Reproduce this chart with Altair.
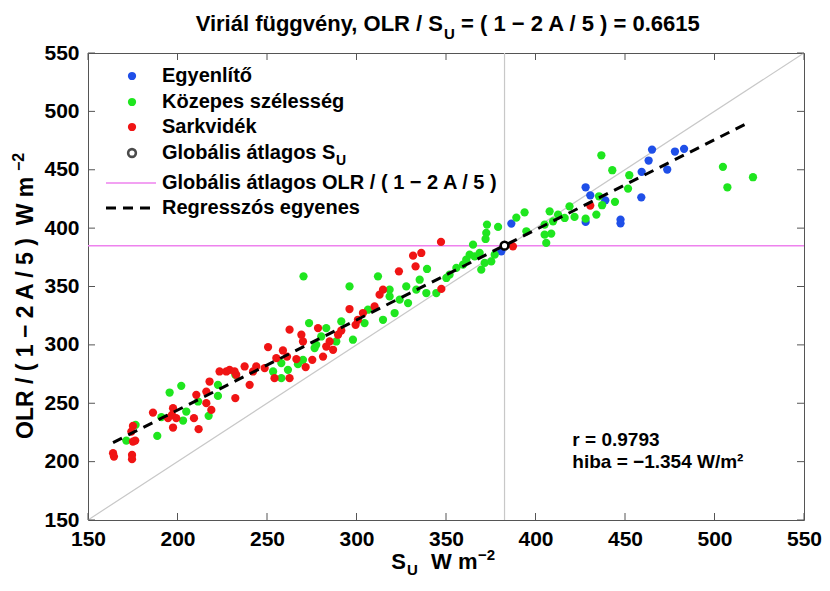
import altair as alt
import pandas as pd

# ---------------- data ----------------
eq_su = [465.1, 477.9, 483.0, 463.2, 459.3, 473.6, 428.0, 430.6, 439.0, 459.1,
         447.5, 447.5, 428.0, 386.5, 380.9]
eq_olr = [467.3, 465.6, 467.9, 457.9, 448.2, 450.2, 435.0, 428.1, 423.8, 426.4,
          407.3, 404.1, 405.3, 403.9, 380.1]

mid_su = [436.8, 442.9, 452.4, 451.7, 444.4, 437.2, 435.5, 434.0, 428.0, 504.7,
          507.2, 521.5, 419.0, 421.8, 416.3, 412.6, 407.9, 409.8, 393.9, 389.3,
          405.1, 394.9, 405.1, 408.8, 406.0,
          379.1, 372.9, 372.5, 372.1, 339.4, 312.0, 318.5, 318.5, 327.8, 335.3,
          333.4, 339.0, 324.1, 328.8, 321.3, 314.8, 306.4, 344.6, 350.2, 352.0,
          359.5, 363.2, 366.0, 368.8, 365.1, 369.7, 371.6, 375.3, 377.2, 361.3,
          355.8,
          270.4, 296.1, 291.5, 304.5, 273.5, 283.1, 280.3, 288.7, 298.0, 277.5,
          276.6, 270.1, 258.0, 261.7, 258.0, 267.3, 253.4,
          232.3, 202.1, 195.6, 222.6, 222.6, 211.5, 204.9, 191.0, 203.1, 217.4,
          188.7, 176.6, 171.4]
mid_olr = [462.4, 449.6, 445.3, 433.9, 422.5, 419.6, 427.3, 411.6, 408.1, 452.5,
           435.0, 443.6, 418.7, 409.6, 408.7, 411.6, 414.4, 405.8, 413.5, 409.0,
           403.0, 397.3, 394.4, 395.3, 387.3,
           401.0, 403.0, 395.9, 390.7, 365.0, 358.7, 347.3, 341.5, 350.1, 355.8,
           347.3, 344.4, 338.7, 335.8, 327.3, 321.5, 330.1, 344.4, 357.3, 360.1,
           368.7, 377.3, 375.8, 378.7, 385.8, 364.4, 370.2, 371.5, 377.3, 373.0,
           365.9,
           358.7, 350.1, 320.1, 318.7, 318.7, 314.4, 307.2, 302.9, 304.4, 300.1,
           297.3, 287.2, 284.4, 278.6, 271.5, 283.5, 277.2,
           274.4, 264.9, 259.2, 265.8, 256.3, 251.5, 242.9, 238.1, 235.2, 239.2,
           222.0, 231.5, 218.0]

pol_su = [430.6, 347.2, 336.2, 331.6, 333.0, 323.7, 314.8, 312.9, 310.1, 347.4,
          387.4,
          296.1, 303.6, 300.8, 299.5, 278.5, 291.5, 289.7, 262.6, 269.2, 270.1,
          285.0, 283.1, 286.9, 281.3, 275.3, 271.6, 250.6, 258.9, 261.2, 255.2,
          254.2, 262.6, 266.4, 237.5, 244.0, 242.2, 240.3, 229.1, 248.7, 232.8,
          223.5, 227.3, 231.9, 217.9, 210.5, 216.1, 216.1, 232.3, 218.9, 197.5,
          186.3, 196.9, 199.3, 194.7, 209.2, 197.5, 211.8, 175.1, 174.2, 176.4,
          175.1, 164.0, 164.5, 174.6, 174.6]
pol_olr = [419.3, 388.2, 378.7, 376.4, 367.2, 363.0, 347.3, 343.0, 332.9, 347.9,
           384.4,
           330.7, 327.3, 321.5, 317.2, 314.4, 312.3, 308.7, 313.0, 308.7, 302.9,
           302.9, 298.6, 295.8, 290.0, 287.2, 281.0, 298.1, 295.2, 290.0, 288.7,
           271.5, 271.5, 287.8, 281.5, 281.5, 277.2, 265.8, 278.6, 280.1, 274.4,
           277.2, 277.2, 277.2, 268.6, 257.2, 260.0, 250.1, 254.4, 244.3, 245.8,
           242.0, 240.0, 237.2, 237.2, 237.2, 229.2, 227.8, 230.6, 225.7, 218.0,
           217.2, 207.2, 204.3, 205.7, 202.1]

region_names = ["Egyenlítő", "Közepes szélesség", "Sarkvidék"]
region_colors = ["#1f4fe8", "#1fe61f", "#f01414"]

global_su = 382.7
global_olr = 385.0
reg_su = [164.0, 518.0]
reg_olr = [216.3, 489.6]
diag = [150, 550]
ticks = [150, 200, 250, 300, 350, 400, 450, 500, 550]

r_text = "r = 0.9793"
hiba_text = "hiba = −1.354 W/m²"
ann_su = 420.6
ann_olr = [218.6, 199.7]

# ---------------- layout ----------------
W, H = 716, 467
FONT = "Liberation Sans"

pts = pd.DataFrame({
    "su": eq_su + mid_su + pol_su,
    "olr": eq_olr + mid_olr + pol_olr,
    "reg": [region_names[0]] * len(eq_su) + [region_names[1]] * len(mid_su)
           + [region_names[2]] * len(pol_su),
})

xs = alt.Scale(domain=[150, 550], nice=False, zero=False)
ys = alt.Scale(domain=[150, 550], nice=False, zero=False)
x_axis = alt.Axis(values=ticks, title=None, domain=False, ticks=False, grid=False,
                  labelFont=FONT, labelFontWeight="bold", labelFontSize=21,
                  labelColor="black", labelPadding=8, labelFlush=False,
                  labelOverlap=False)
y_axis = alt.Axis(values=ticks, title=None, domain=False, ticks=False, grid=False,
                  labelFont=FONT, labelFontWeight="bold", labelFontSize=21,
                  labelColor="black", labelPadding=9, labelFlush=False,
                  labelOverlap=False)

diag_layer = alt.Chart(pd.DataFrame({"a": diag, "b": diag})).mark_line(
    color="#c8c8c8", strokeWidth=1.2).encode(
    x=alt.X("a:Q", scale=xs, axis=x_axis), y=alt.Y("b:Q", scale=ys, axis=y_axis))

vline = alt.Chart(pd.DataFrame({"v": [global_su]})).mark_rule(
    color="#c8c8c8", strokeWidth=1.2).encode(x=alt.X("v:Q", scale=xs))
hline = alt.Chart(pd.DataFrame({"v": [global_olr]})).mark_rule(
    color="#ee82ee", strokeWidth=1.5).encode(y=alt.Y("v:Q", scale=ys))

points = alt.Chart(pts).mark_circle(size=68, opacity=1).encode(
    x=alt.X("su:Q", scale=xs),
    y=alt.Y("olr:Q", scale=ys),
    color=alt.Color("reg:N", scale=alt.Scale(domain=region_names, range=region_colors),
                    legend=None),
)

reg_layer = alt.Chart(pd.DataFrame({"a": reg_su, "b": reg_olr})).mark_line(
    color="black", strokeWidth=3, strokeDash=[10, 7]).encode(
    x=alt.X("a:Q", scale=xs), y=alt.Y("b:Q", scale=ys))

glob_pt = alt.Chart(pd.DataFrame({"a": [global_su], "b": [global_olr]})).mark_point(
    shape="circle", filled=False, color="black", strokeWidth=2.6, size=60,
    fill="white", fillOpacity=1).encode(
    x=alt.X("a:Q", scale=xs), y=alt.Y("b:Q", scale=ys))

ann = alt.Chart(pd.DataFrame({"a": [ann_su, ann_su], "b": ann_olr,
                              "t": [r_text, hiba_text]})).mark_text(
    font=FONT, fontWeight="bold", fontSize=19, align="left", baseline="middle",
    color="black").encode(x=alt.X("a:Q", scale=xs), y=alt.Y("b:Q", scale=ys), text="t:N")

tdf = pd.DataFrame({"t": ticks})
tk = dict(color="#555555", strokeWidth=1)
tick_bottom = alt.Chart(tdf).mark_rule(**tk).encode(
    x=alt.X("t:Q", scale=xs), y=alt.value(H), y2=alt.value(H - 7))
tick_top = alt.Chart(tdf).mark_rule(**tk).encode(
    x=alt.X("t:Q", scale=xs), y=alt.value(0), y2=alt.value(7))
tick_left = alt.Chart(tdf).mark_rule(**tk).encode(
    y=alt.Y("t:Q", scale=ys), x=alt.value(0), x2=alt.value(7))
tick_right = alt.Chart(tdf).mark_rule(**tk).encode(
    y=alt.Y("t:Q", scale=ys), x=alt.value(W - 7), x2=alt.value(W))


def label(txt, px, py, size=20, align="left", baseline="alphabetic", angle=0):
    return alt.Chart(pd.DataFrame({"t": [txt]})).mark_text(
        font=FONT, fontWeight="bold", fontSize=size, align=align,
        baseline=baseline, angle=angle, color="black").encode(
        x=alt.value(px), y=alt.value(py), text="t:N")


# title (with subscript U)
title_parts = [
    label("Viriál függvény, OLR / S", 355, -22, size=22, align="right"),
    label("U", 356, -14, size=15),
    label("= ( 1 − 2 A / 5 ) = 0.6615", 373, -22, size=22),
]
# x axis title
xtitle_parts = [
    label("S", 318, 516, size=22, align="right"),
    label("U", 319, 522, size=15),
    label("W m", 343, 516, size=22),
    label("−2", 390, 507, size=15),
]
# y axis title (rotated)
ytitle_parts = [
    label("OLR / ( 1 − 2 A / 5 )\u00a0 W m", -55, 386, size=23, angle=270),
    label("−2", -64, 118, size=16, angle=270),
]

# legend
leg_rows = [23, 49, 74, 100, 130, 155]
leg_dot_x = 44
leg_txt_x = 74
legend_parts = []
for i in range(3):
    legend_parts.append(
        alt.Chart(pd.DataFrame({"t": [region_names[i]]})).mark_circle(
            size=68, opacity=1, color=region_colors[i]).encode(
            x=alt.value(leg_dot_x), y=alt.value(leg_rows[i])))
    legend_parts.append(label(region_names[i], leg_txt_x, leg_rows[i], baseline="middle"))
legend_parts.append(
    alt.Chart(pd.DataFrame({"t": ["g"]})).mark_point(
        shape="circle", filled=False, color="black", strokeWidth=2.6, size=60).encode(
        x=alt.value(leg_dot_x), y=alt.value(leg_rows[3])))
legend_parts.append(label("Globális átlagos S", leg_txt_x, leg_rows[3], baseline="middle"))
legend_parts.append(label("U", leg_txt_x + 174, leg_rows[3] + 8, size=14, baseline="middle"))
legend_parts.append(
    alt.Chart(pd.DataFrame({"t": ["m"]})).mark_rule(color="#ee82ee", strokeWidth=1.5).encode(
        x=alt.value(18), x2=alt.value(68), y=alt.value(leg_rows[4])))
legend_parts.append(label("Globális átlagos OLR / ( 1 − 2 A / 5 )", leg_txt_x, leg_rows[4],
                          baseline="middle"))
legend_parts.append(
    alt.Chart(pd.DataFrame({"t": ["r"]})).mark_rule(color="black", strokeWidth=3,
                                                   strokeDash=[10, 7]).encode(
        x=alt.value(18), x2=alt.value(68), y=alt.value(leg_rows[5])))
legend_parts.append(label("Regresszós egyenes", leg_txt_x, leg_rows[5], baseline="middle"))

chart = alt.layer(
    diag_layer, vline, hline, points, reg_layer, glob_pt, ann,
    tick_bottom, tick_top, tick_left, tick_right,
    *title_parts, *xtitle_parts, *ytitle_parts, *legend_parts,
).properties(
    width=W, height=H,
    padding={"left": 80, "top": 45, "right": 18, "bottom": 60},
    autosize=alt.AutoSizeParams(type="none"),
    background="white",
).configure_view(stroke="#555555", strokeWidth=1)

chart.save("out.html", embed_options={"renderer": "svg", "actions": False})
